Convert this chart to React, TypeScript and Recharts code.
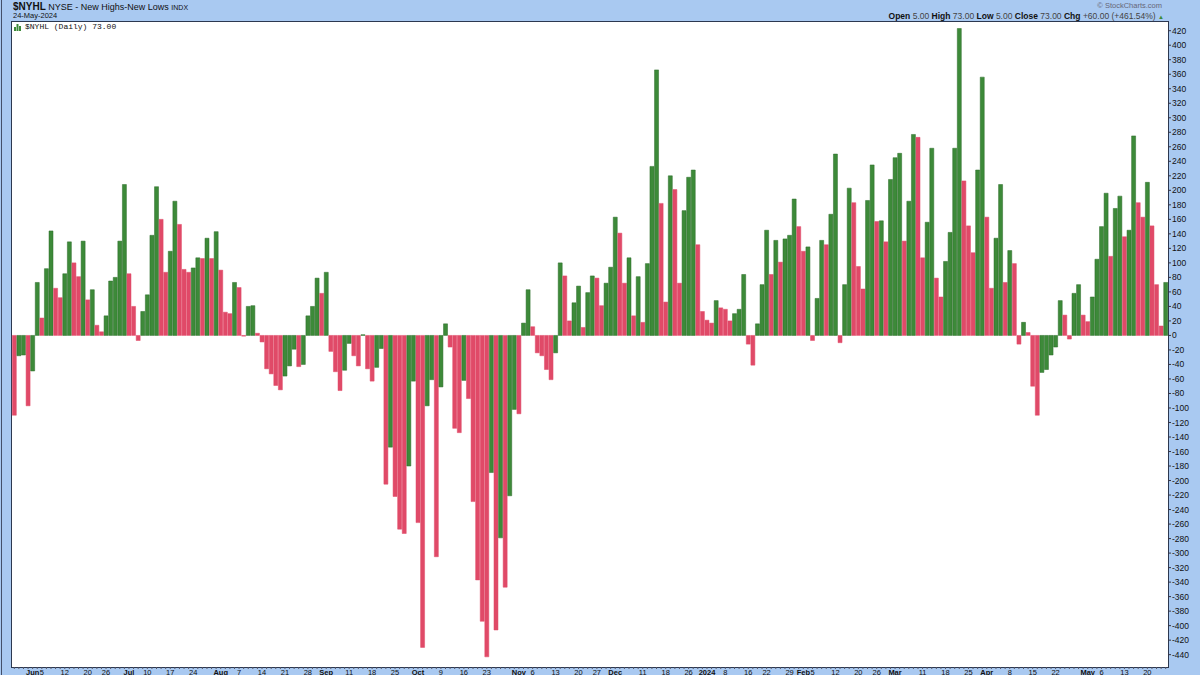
import React from 'react';
import { BarChart, Bar, Cell, XAxis, YAxis, CartesianGrid } from 'recharts';

// NYSE closed days inside the window
const holidays = [
  '2023-05-29', '2023-06-19', '2023-07-04', '2023-09-04', '2023-11-23', '2023-12-25',
  '2024-01-01', '2024-01-15', '2024-02-19', '2024-03-29',
];

// daily $NYHL closes, one array per month
const may23 = [-110, -28, -27, -97];
const jun23 = [-49, 73, 24, 92, 144, 65, 52, 85, 129, 100, 81, 130, 49, 63, 14, 5, 27, 75, 80, 130, 208];
const jul23 = [85, 40, -7, 33, 56, 138, 205, 160, 87, 116, 185, 153, 91, 87, 93, 107, 106, 134, 106, 143];
const aug23 = [90, 32, 30, 73, 66, -1, 40, 41, 3, -9, -46, -53, -69, -75, -56, -42, -19, -43, -40, 27, 40, 79, 58];
const sep23 = [87, -22, -50, -76, -48, -11, -28, -42, 1, -46, -63, -44, -18, -205, -154, -222, -267, -273, -180, -63];
const oct23 = [-258, -430, -97, -61, -305, -71, 16, -16, -128, -134, -62, -87, -229, -337, -394, -443, -189, -406, -279, -347, -221, -102];
const nov23 = [-108, 17, 63, 12, -24, -28, -47, -61, -24, 100, 82, 20, 45, 68, 11, 59, 82, 79, 41, 72, 94];
const dec23 = [163, 141, 72, 107, 27, 81, 18, 99, 233, 366, 182, 46, 220, 201, 72, 172, 218, 228, 125, 33];
const jan24 = [21, 17, 48, 38, 36, 20, 30, 36, 84, -12, -41, 16, 70, 145, 84, 131, 101, 133, 138, 188, 150];
const feb24 = [116, 122, -7, 51, 131, 125, 167, 250, -10, 70, 203, 183, 95, 64, 186, 235, 157, 158, 129, 215];
const mar24 = [245, 251, 130, 185, 277, 273, 107, 156, 258, 79, 53, 102, 142, 258, 423, 213, 151, 114, 228, 356];
const apr24 = [163, 65, 134, 208, 73, 117, 99, -12, 18, 4, -70, -110, -51, -47, -27, -16, 48, 28, -5, 58, 70, 28];
const may24 = [19, 53, 105, 150, 196, 109, 175, 192, 136, 145, 275, 183, 163, 211, 151, 70, 13, 73];

const monthLabels: [string, string][] = [
  ['2023-06-01', 'Jun'], ['2023-07-03', 'Jul'], ['2023-08-01', 'Aug'], ['2023-09-01', 'Sep'],
  ['2023-10-02', 'Oct'], ['2023-11-01', 'Nov'], ['2023-12-01', 'Dec'], ['2024-01-02', '2024'],
  ['2024-02-01', 'Feb'], ['2024-03-01', 'Mar'], ['2024-04-01', 'Apr'], ['2024-05-01', 'May'],
];
const weekLabels: [string, string][] = [
  ['2023-06-05', '5'], ['2023-06-12', '12'], ['2023-06-20', '20'], ['2023-06-26', '26'],
  ['2023-07-10', '10'], ['2023-07-17', '17'], ['2023-07-24', '24'],
  ['2023-08-07', '7'], ['2023-08-14', '14'], ['2023-08-21', '21'], ['2023-08-28', '28'],
  ['2023-09-11', '11'], ['2023-09-18', '18'], ['2023-09-25', '25'],
  ['2023-10-09', '9'], ['2023-10-16', '16'], ['2023-10-23', '23'],
  ['2023-11-06', '6'], ['2023-11-13', '13'], ['2023-11-20', '20'], ['2023-11-27', '27'],
  ['2023-12-11', '11'], ['2023-12-18', '18'], ['2023-12-26', '26'],
  ['2024-01-08', '8'], ['2024-01-16', '16'], ['2024-01-22', '22'], ['2024-01-29', '29'],
  ['2024-02-05', '5'], ['2024-02-12', '12'], ['2024-02-20', '20'], ['2024-02-26', '26'],
  ['2024-03-11', '11'], ['2024-03-18', '18'], ['2024-03-25', '25'],
  ['2024-04-08', '8'], ['2024-04-15', '15'], ['2024-04-22', '22'],
  ['2024-05-06', '6'], ['2024-05-13', '13'], ['2024-05-20', '20'],
];

const yTicks = [
  420, 400, 380, 360, 340, 320, 300, 280, 260, 240, 220, 200, 180, 160, 140, 120, 100, 80, 60, 40, 20, 0,
  -20, -40, -60, -80, -100, -120, -140, -160, -180, -200, -220, -240, -260, -280, -300, -320, -340,
  -360, -380, -400, -420, -440,
];

const UP = '#3d8a39';
const UP_EDGE = '#2b6a29';
const DOWN = '#e04a68';
const BG = '#a9c9f1';

function tradingDays(start: string, end: string) {
  const out: string[] = [];
  const d = new Date(start + 'T00:00:00Z');
  const e = new Date(end + 'T00:00:00Z');
  while (d <= e) {
    const dow = d.getUTCDay();
    const s = d.toISOString().slice(0, 10);
    if (dow !== 0 && dow !== 6 && !holidays.includes(s)) out.push(s);
    d.setUTCDate(d.getUTCDate() + 1);
  }
  return out;
}

const values = [may23, jun23, jul23, aug23, sep23, oct23, nov23, dec23, jan24, feb24, mar24, apr24, may24].flat();
const dates = tradingDays('2023-05-25', '2024-05-24');
const data = dates.map((date, i) => ({
  date,
  value: values[i],
  up: i > 0 && values[i] > values[i - 1],
}));

const labelMap = new Map<string, { text: string; bold: boolean }>();
weekLabels.forEach(([d, t]) => labelMap.set(d, { text: t, bold: false }));
monthLabels.forEach(([d, t]) => labelMap.set(d, { text: t, bold: true }));

const DateTick = (props: any) => {
  const { x, y, payload } = props;
  const l = labelMap.get(payload.value);
  if (!l) return <g />;
  return (
    <text x={x} y={y + 5.5} textAnchor="middle" fontSize={7.5} fontWeight={l.bold ? 700 : 400}
      fill="#111" fontFamily='"Liberation Sans", Arial, sans-serif'>
      {l.text}
    </text>
  );
};

const App = () => {
  return (
    <div style={{
      position: 'absolute', left: 0, top: 0, width: 1200, height: 675, background: BG,
      overflow: 'hidden', fontFamily: '"Liberation Sans", Arial, sans-serif', color: '#111',
    }}>
      <div style={{ position: 'absolute', left: 1, top: 0, width: 1, height: 675, background: '#44506a' }} />
      <div style={{ position: 'absolute', left: 13, top: 1, whiteSpace: 'nowrap', fontSize: 9 }}>
        <b style={{ fontSize: 10 }}>$NYHL</b> NYSE - New Highs-New Lows <span style={{ fontSize: 7 }}>INDX</span>
      </div>
      <div style={{ position: 'absolute', left: 13, top: 11, fontSize: 7.5, whiteSpace: 'nowrap' }}>24-May-2024</div>
      <div style={{ position: 'absolute', right: 38, top: 1, fontSize: 7.5, color: '#667', whiteSpace: 'nowrap' }}>
        © StockCharts.com
      </div>
      <div style={{ position: 'absolute', right: 36, top: 11, fontSize: 8.5, whiteSpace: 'nowrap' }}>
        <b>Open</b> <span style={{ color: '#444' }}>5.00</span> <b>High</b> <span style={{ color: '#444' }}>73.00</span>{' '}
        <b>Low</b> <span style={{ color: '#444' }}>5.00</span> <b>Close</b> <span style={{ color: '#444' }}>73.00</span>{' '}
        <b>Chg</b> <span style={{ color: '#444' }}>+60.00 (+461.54%)</span> <span style={{ color: UP, fontSize: 6 }}>▲</span>
      </div>
      <div style={{
        position: 'absolute', left: 11, top: 21, width: 1158, height: 647, boxSizing: 'border-box',
        background: '#fff', border: '1px solid #2c3850',
      }} />
      <div style={{ position: 'absolute', left: 0, top: 0 }}>
        <BarChart width={1200} height={675} data={data} barCategoryGap="7%"
          margin={{ top: 22, right: 0, bottom: 0, left: 12 }}>
          <CartesianGrid horizontal={false} vertical={false} />
          <XAxis dataKey="date" interval={0} height={8} tick={<DateTick />} tickSize={2} tickMargin={0}
            tickLine={{ stroke: '#556' }} axisLine={false} />
          <YAxis orientation="right" width={32} domain={[-457, 432]} ticks={yTicks} interval={0}
            allowDataOverflow tickSize={3} tickMargin={1} tickLine={{ stroke: '#334' }} axisLine={false}
            tick={{ fontSize: 8.5, fill: '#111', fontFamily: '"Liberation Sans", Arial, sans-serif' }} />
          <Bar dataKey="value" isAnimationActive={false}>
            {data.map((d) => (
              <Cell key={d.date} fill={d.up ? UP : DOWN} stroke={d.up ? UP_EDGE : DOWN} strokeWidth={0.5} />
            ))}
          </Bar>
        </BarChart>
      </div>
      <div style={{ position: 'absolute', left: 14, top: 23, display: 'flex', alignItems: 'flex-end', gap: 4 }}>
        <svg width={7} height={7}>
          <rect x={0} y={3} width={2} height={4} fill={UP} />
          <rect x={2.5} y={0} width={2} height={7} fill={UP} />
          <rect x={5} y={2} width={2} height={5} fill={UP} />
        </svg>
        <span style={{ fontFamily: '"Liberation Mono", monospace', fontSize: 8, lineHeight: '8px' }}>
          $NYHL (Daily) 73.00
        </span>
      </div>
    </div>
  );
};

export default App;
